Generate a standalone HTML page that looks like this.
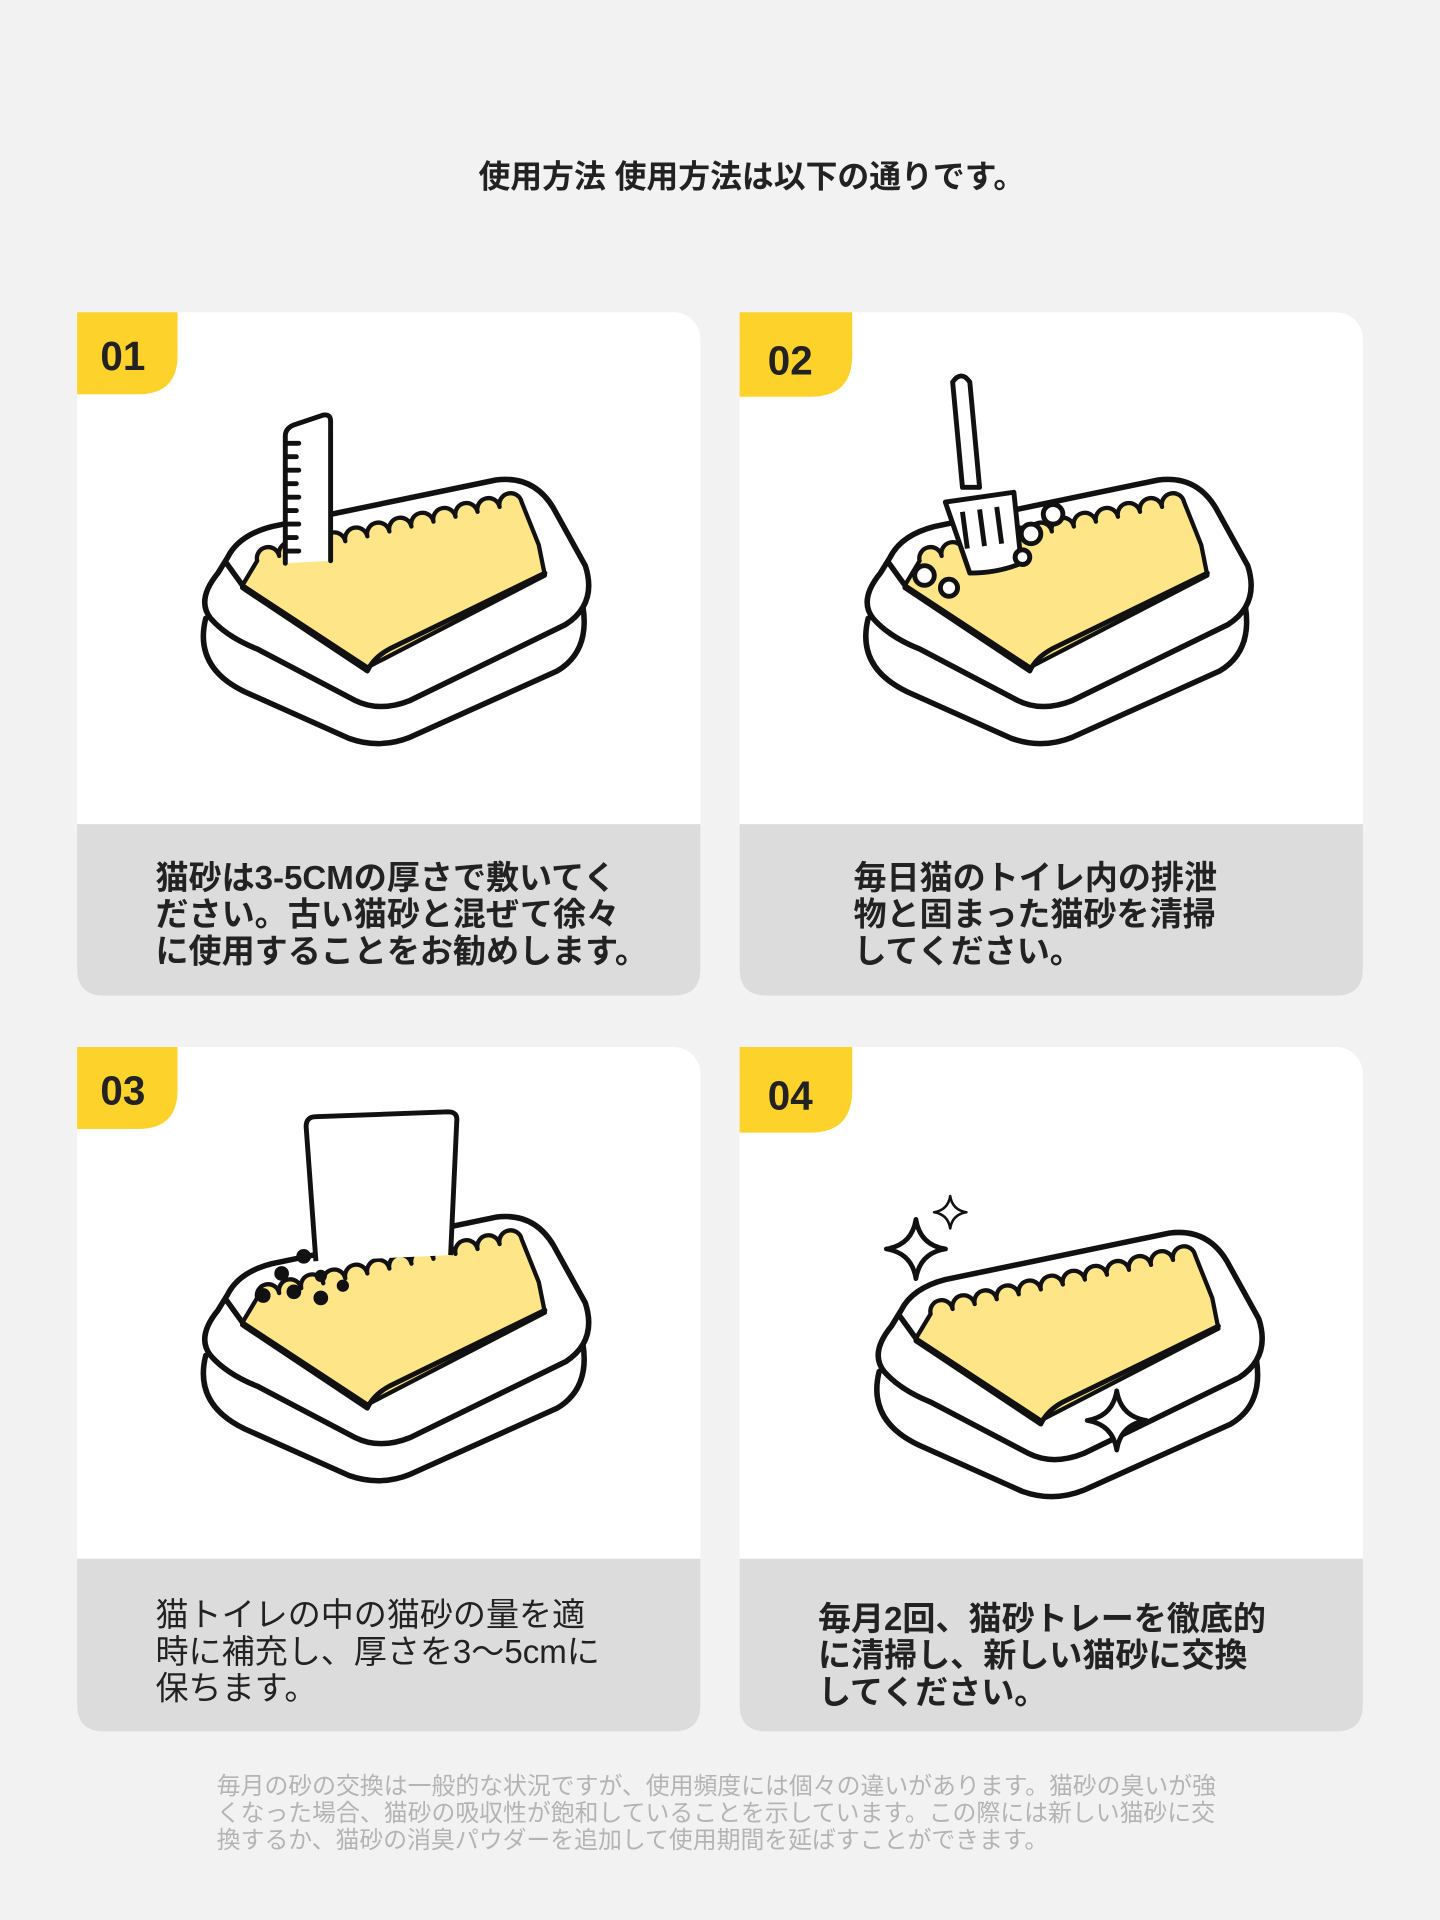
<!DOCTYPE html>
<html><head><meta charset="utf-8"><style>
html,body{margin:0;padding:0;background:#f2f2f2}
svg{display:block}
text{font-family:"Liberation Sans","Noto Sans CJK JP",sans-serif}
</style></head><body>
<svg width="1440" height="1920" viewBox="0 0 1176 1568" xmlns="http://www.w3.org/2000/svg">
<defs>
<g id="tray" fill="none" stroke="#111" stroke-width="4.5" stroke-linejoin="round" stroke-linecap="round">
 <path d="M168,505 Q158,545 200,565 L285,603 Q310,612 335,602 L455,548 Q482,532 476,495" fill="#fff"/>
 <path d="M178,468 Q160,490 172,505 Q185,520 210,530 L290,572 Q310,582 335,572 L462,510 Q488,493 478,462 L452,415 Q436,388 405,392 L222,430 Q195,437 186,455 Z" fill="#fff"/>
 <path d="M198,478 L210,458 a9,9 0 0 1 18,-4 a9,9 0 0 1 18,-4 a9,9 0 0 1 18,-4 a9,9 0 0 1 18,-4 a9,9 0 0 1 18,-4 a9,9 0 0 1 18,-4 a9,9 0 0 1 18,-4 a9,9 0 0 1 18,-4 a9,9 0 0 1 18,-4 a9,9 0 0 1 18,-4 a9,9 0 0 1 18,-4 a9,9 0 0 1 18,-4 L440,445 L445,470 L300,545 Z" fill="#fde588" stroke-width="3.5"/>
 <path d="M445,468 L318,530 Q305,537 300,548 L198,480" stroke-width="4"/>
 <path d="M185,460 L198,478"/>
</g>
<path id="spark" d="M0,-22 Q3,-3 22,0 Q3,3 0,22 Q-3,3 -22,0 Q-3,-3 0,-22 Z" fill="#fff" stroke="#111" stroke-width="3.5" stroke-linejoin="round"/>
</defs>
<rect width="1176" height="1568" fill="#f2f2f2"/>
<text x="614" y="153" text-anchor="middle" font-size="26" font-weight="bold" fill="#222">使用方法  使用方法は以下の通りです。</text>

<g>
 <rect x="63" y="255" width="509" height="558" rx="22" fill="#fff"/>
 <path d="M63,673 H572 V791 Q572,813 550,813 H85 Q63,813 63,791 Z" fill="#dcdcdc"/>
 <path d="M63,255 H145 V290 Q145,322 113,322 H63 Z" fill="#fdd22a"/>
 <text x="82" y="302" font-size="33" font-weight="bold" fill="#222">01</text>
 <rect x="604" y="255" width="509" height="558" rx="22" fill="#fff"/>
 <path d="M604,673 H1113 V791 Q1113,813 1091,813 H626 Q604,813 604,791 Z" fill="#dcdcdc"/>
 <path d="M604,255 H696 V290 Q696,324 662,324 H604 Z" fill="#fdd22a"/>
 <text x="627" y="306" font-size="33" font-weight="bold" fill="#222">02</text>
 <rect x="63" y="855" width="509" height="559" rx="22" fill="#fff"/>
 <path d="M63,1273 H572 V1392 Q572,1414 550,1414 H85 Q63,1414 63,1392 Z" fill="#dcdcdc"/>
 <path d="M63,855 H145 V890 Q145,922 113,922 H63 Z" fill="#fdd22a"/>
 <text x="82" y="902" font-size="33" font-weight="bold" fill="#222">03</text>
 <rect x="604" y="855" width="509" height="559" rx="22" fill="#fff"/>
 <path d="M604,1273 H1113 V1392 Q1113,1414 1091,1414 H626 Q604,1414 604,1392 Z" fill="#dcdcdc"/>
 <path d="M604,855 H696 V890 Q696,925 662,925 H604 Z" fill="#fdd22a"/>
 <text x="627" y="906" font-size="33" font-weight="bold" fill="#222">04</text>
</g>

<use href="#tray"/>
<g fill="#fff" stroke="#111" stroke-width="4" stroke-linejoin="round" stroke-linecap="round">
 <path d="M233,460 V356 Q233,350 240,347 L264,339 Q270,338 270,344 V458"/>
 <path d="M234,362 h10 M234,373 h8 M234,384 h10 M234,395 h8 M234,406 h10 M234,417 h8 M234,428 h10 M234,439 h8 M234,450 h10" fill="none"/>
</g>

<use href="#tray" transform="translate(541,0)"/>
<g fill="#fff" stroke="#111" stroke-width="4" stroke-linejoin="round">
 <path d="M778,312 Q785,302 792,312 L800,398 L786,398 Z"/>
 <path d="M772,410 L828,402 L834,460 Q815,468 792,468 Z"/>
 <path d="M786,418 l4,30 M800,416 l4,30 M814,414 l4,30" fill="none"/>
 <circle cx="842" cy="436" r="8"/><circle cx="860" cy="420" r="8"/><circle cx="755" cy="470" r="8"/><circle cx="775" cy="480" r="7"/><circle cx="835" cy="455" r="6"/>
</g>

<use href="#tray" transform="translate(0,602)"/>
<g stroke="#111" stroke-width="4" stroke-linejoin="round">
 <path d="M258,1030 L250,920 Q250,912 258,912 L366,908 Q374,908 373,916 L368,1025" fill="#fff"/>
 <g fill="#111" stroke="none"><circle cx="230" cy="1040" r="6"/><circle cx="248" cy="1026" r="6"/><circle cx="215" cy="1058" r="6"/><circle cx="240" cy="1055" r="6"/><circle cx="262" cy="1042" r="5"/><circle cx="262" cy="1060" r="6"/><circle cx="280" cy="1050" r="5"/></g>
</g>

<use href="#tray" transform="translate(550,615)"/>
<use href="#spark" transform="translate(748,1020) scale(1.1)"/>
<use href="#spark" transform="translate(776,990) scale(0.6)"/>
<use href="#spark" transform="translate(912,1160) scale(1.1)"/>

<g font-size="27" font-weight="bold" fill="#222">
 <text x="127" y="726">猫砂は3-5CMの厚さで敷いてく</text>
 <text x="127" y="756">ださい。古い猫砂と混ぜて徐々</text>
 <text x="127" y="786">に使用することをお勧めします。</text>
 <text x="697" y="726">毎日猫のトイレ内の排泄</text>
 <text x="697" y="756">物と固まった猫砂を清掃</text>
 <text x="697" y="786">してください。</text>
 <text x="668" y="1331">毎月2回、猫砂トレーを徹底的</text>
 <text x="668" y="1361">に清掃し、新しい猫砂に交換</text>
 <text x="668" y="1391">してください。</text>
</g>
<g font-size="27" fill="#222">
 <text x="127" y="1328">猫トイレの中の猫砂の量を適</text>
 <text x="127" y="1358">時に補充し、厚さを3〜5cmに</text>
 <text x="127" y="1388">保ちます。</text>
</g>
<g font-size="19.5" fill="#b4b4b4">
 <text x="177" y="1465">毎月の砂の交換は一般的な状況ですが、使用頻度には個々の違いがあります。猫砂の臭いが強</text>
 <text x="177" y="1487">くなった場合、猫砂の吸収性が飽和していることを示しています。この際には新しい猫砂に交</text>
 <text x="177" y="1509">換するか、猫砂の消臭パウダーを追加して使用期間を延ばすことができます。</text>
</g>
</svg>
</body></html>
